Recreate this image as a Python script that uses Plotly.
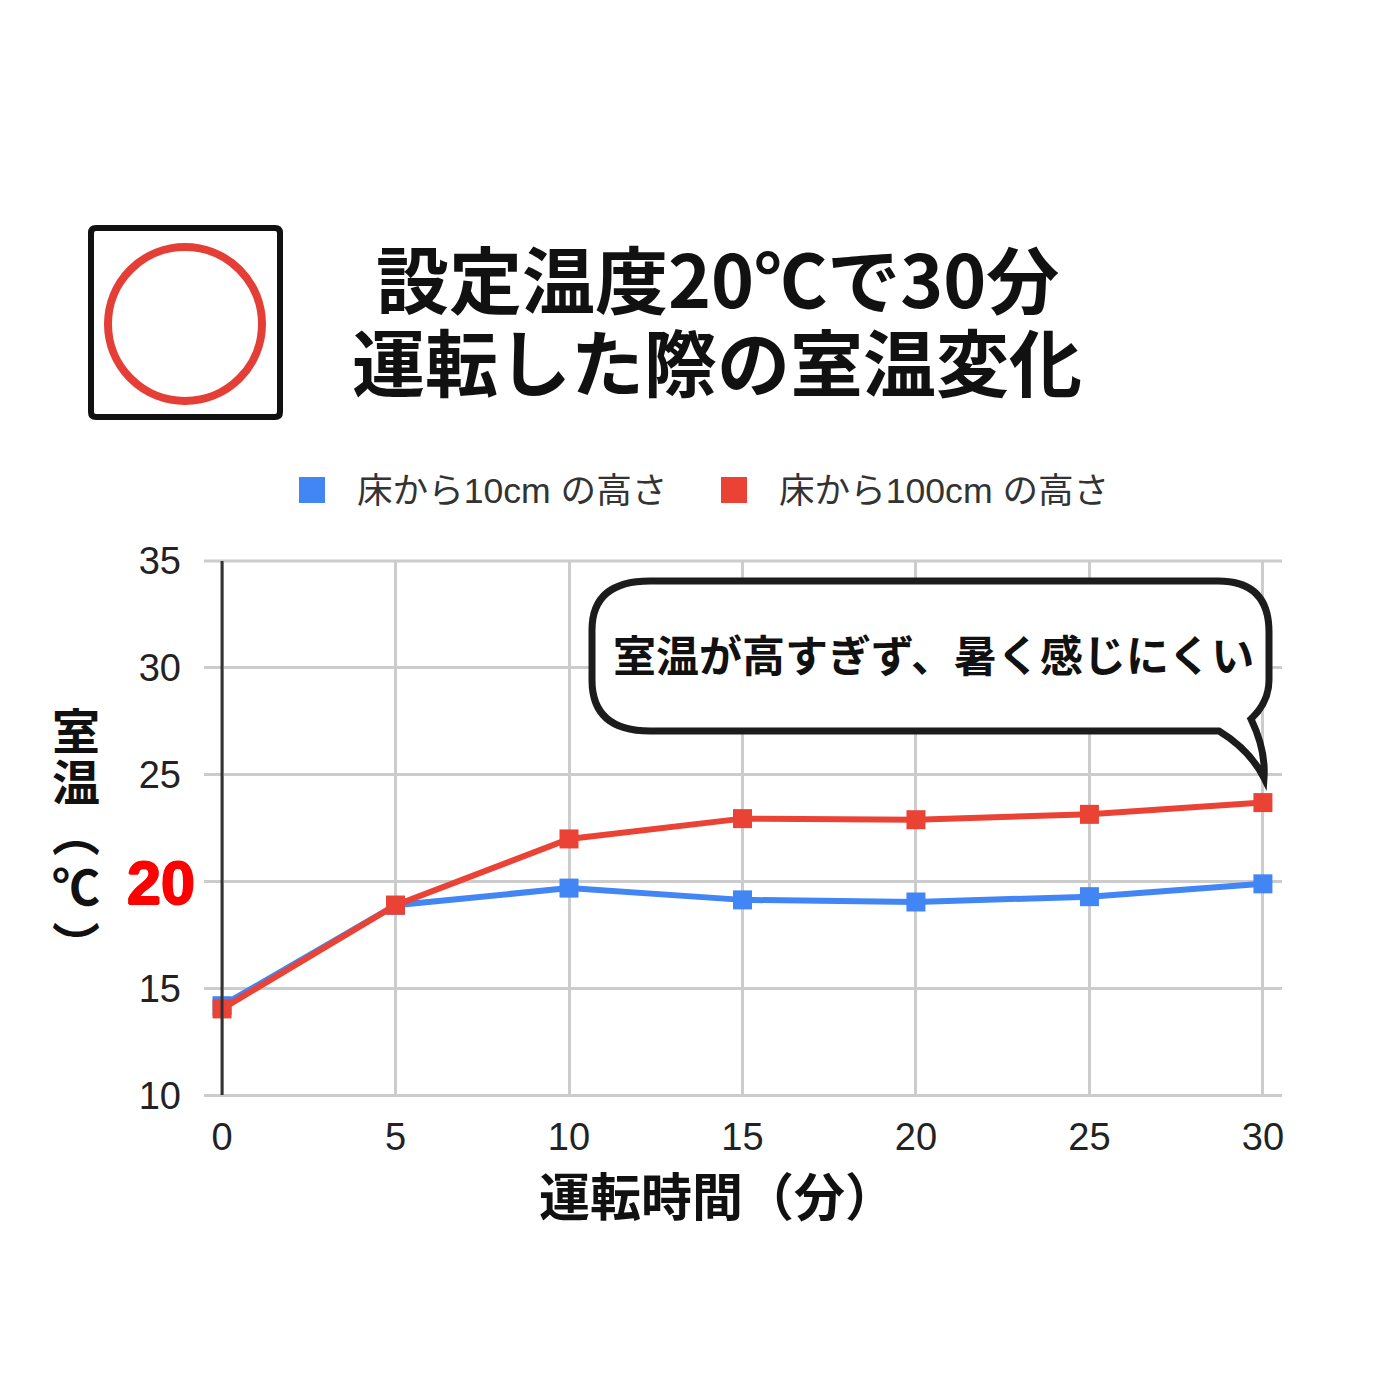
import plotly.graph_objects as go

minutes = [0, 5, 10, 15, 20, 25, 30]
low = [14.2, 18.9, 19.7, 19.15, 19.05, 19.3, 19.9]
high = [14.05, 18.9, 22.0, 22.95, 22.9, 23.15, 23.7]
y_range = [10, 35]
JP = "Noto Sans CJK JP"
MIX = "Liberation Sans, Noto Sans CJK JP"
TXT = "Liberation Sans"
BLUE = "#4285f4"
RED = "#ea4335"
GRID = "#cccccc"

SIZE = 1392
OFF = 8
def px(x): return (x - OFF) / SIZE
def py(y): return 1 - (y - OFF) / SIZE

fig = go.Figure()
for name, vals, col in [("床から10cm の高さ", low, BLUE), ("床から100cm の高さ", high, RED)]:
    fig.add_trace(go.Scatter(x=minutes, y=vals, mode="lines+markers", showlegend=False,
        line=dict(color=col, width=6), marker=dict(symbol="square", size=19, color=col), cliponaxis=False))
    fig.add_trace(go.Scatter(x=[None], y=[None], name=name, mode="markers",
        marker=dict(symbol="square", size=16, color=col)))

def P(x, y): return "{} {}".format(px(x), py(y))

def square(x0, col):
    return dict(type="rect", xref="paper", yref="paper", x0=px(x0), x1=px(x0 + 26), y0=py(503), y1=py(477),
                fillcolor=col, line=dict(width=0))

def edge(y):
    return dict(type="line", xref="paper", yref="paper", x0=px(204), x1=px(1282), y0=py(y), y1=py(y), layer="below",
                line=dict(color=GRID, width=3))

shapes = [
    edge(561), edge(1095.5),
    square(299, BLUE), square(721, RED),
    dict(type="path", xref="paper", yref="paper", line=dict(color="#111", width=6),
         path="M " + P(96, 228) + " L " + P(275, 228) + " Q " + P(280, 228) + " " + P(280, 233) +
              " L " + P(280, 412) + " Q " + P(280, 417) + " " + P(275, 417) +
              " L " + P(96, 417) + " Q " + P(91, 417) + " " + P(91, 412) +
              " L " + P(91, 233) + " Q " + P(91, 228) + " " + P(96, 228) + " Z"),
    dict(type="circle", xref="paper", yref="paper", x0=px(108), x1=px(262), y0=py(401), y1=py(247),
         line=dict(color="#e53e36", width=8)),
    dict(type="line", xref="x", yref="paper", x0=0, x1=0, y0=py(1095), y1=py(561),
         line=dict(color="#333", width=3)),
    dict(type="path", xref="paper", yref="paper", fillcolor="white", line=dict(color="#1c1c1c", width=7),
         path="M " + P(650, 581) + " L " + P(1218, 581) +
              " Q " + P(1269, 581) + " " + P(1269, 632) + " L " + P(1269, 680) +
              " Q " + P(1269, 702) + " " + P(1251, 719) +
              " Q " + P(1266, 750) + " " + P(1264, 778) +
              " Q " + P(1250, 750) + " " + P(1219, 731) + " L " + P(650, 731) +
              " Q " + P(592, 731) + " " + P(592, 680) + " L " + P(592, 630) +
              " Q " + P(592, 581) + " " + P(650, 581) + " Z"),
]

def note(text, x, y, size, color="#111", family=JP, shadow=None):
    font = dict(family=family, size=size, color=color)
    if shadow:
        font["shadow"] = shadow
    return dict(text="<b>{}</b>".format(text), xref="paper", yref="paper", x=px(x), y=py(y),
                xanchor="center", yanchor="middle", showarrow=False, font=font)

annotations = [
    note("設定温度20℃で30分", 717, 276, 73),
    note("運転した際の室温変化", 717, 359, 73),
    note("室温が高すぎず、暑く感じにくい", 933, 653, 43),
    note("20", 161, 883, 61, color="#ff0000", family=TXT,
         shadow="1px 0 0 #ff0000, -1px 0 0 #ff0000, 0 1px 0 #ff0000, 0 -1px 0 #ff0000"),
    note("室", 76, 728, 48),
    note("温", 76, 779, 48),
    note("︵", 76, 830, 48),
    note("℃", 76, 884, 48),
    note("︶", 76, 942, 48),
    note("運転時間（分）", 717, 1194, 51),
]

fig.update_layout(
    width=SIZE, height=SIZE, autosize=False, paper_bgcolor="white", plot_bgcolor="white",
    margin=dict(l=0, r=0, t=0, b=0, autoexpand=False), shapes=shapes, annotations=annotations,
    xaxis=dict(domain=[px(204), px(1282)], range=[-0.52, 30.55], tickvals=minutes, showgrid=True,
        gridcolor=GRID, gridwidth=3, zeroline=False, showline=False, ticks="", automargin=False,
        ticklabelstandoff=15, tickfont=dict(family=TXT, size=38, color="#222")),
    yaxis=dict(domain=[py(1095.5), py(561)], range=y_range, tickvals=[10, 15, 20, 25, 30, 35],
        ticktext=["10", "15", " ", "25", "30", "35"], showgrid=True,
        gridcolor=GRID, gridwidth=3, zeroline=False, showline=False, ticks="",
        automargin=False, ticklabelstandoff=22,
        tickfont=dict(family=TXT, size=38, color="#222")),
    legend=dict(orientation="h", x=px(267), xanchor="left", y=py(489), yanchor="middle",
        bgcolor="rgba(0,0,0,0)",
        font=dict(family=MIX, size=35.6, color="#333"), itemsizing="trace", itemwidth=80,
        entrywidth=327, entrywidthmode="pixels"),
)
fig.write_html("out.html")
